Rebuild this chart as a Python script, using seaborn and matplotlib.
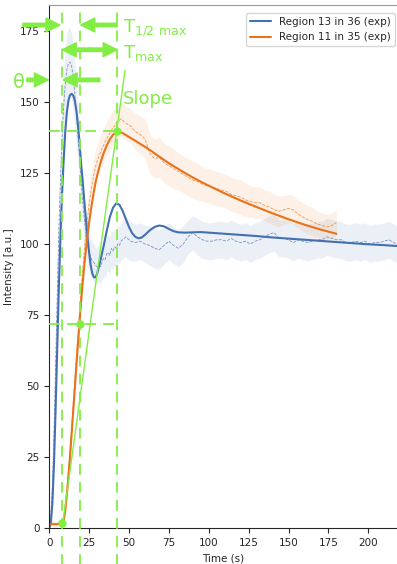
import numpy as np
import pandas as pd
import matplotlib
matplotlib.use("Agg")
import matplotlib.pyplot as plt
import seaborn as sns

# fitted curves
blue_fit_t = [0, 1, 2, 3, 4, 5, 6, 7, 8, 9, 10, 11, 12, 13, 14, 15, 16, 17, 18, 19, 20,
              21, 22, 23, 24, 25, 26, 27, 28, 29, 30, 32, 34, 36, 38, 40, 42, 44, 46, 48,
              50, 52, 54, 56, 58, 60, 63, 66, 69, 72, 75, 78, 81, 85, 90, 95, 100, 110,
              120, 130, 140, 150, 160, 170, 180, 190, 200, 210, 218]
blue_fit_v = [0, 2, 9, 23, 42, 63, 84, 102, 117, 129, 139, 146, 150.3, 152.3, 152.8, 152.3,
              150.5, 147, 142, 135.5, 128, 122, 115, 108.5, 102.5, 97, 92.5, 89.7, 88.3,
              88.3, 89.5, 94, 99, 104.5, 109.5, 112.8, 114.3, 113.8, 111.7, 108.8, 106,
              103.8, 102.5, 102, 102.3, 103.2, 104.8, 106, 106.5, 106.2, 105.3, 104.5,
              104.1, 104, 104.1, 104.2, 104, 103.6, 103.2, 102.8, 102.3, 101.9, 101.5,
              101.1, 100.7, 100.3, 99.9, 99.6, 99.3]

orange_fit_t = [0, 4, 8, 9, 10, 11, 12, 13, 14, 15, 16, 17, 18, 19, 20, 21, 22, 23, 24, 25,
                26, 27, 28, 29, 30, 32, 34, 36, 38, 40, 42, 44, 46, 48, 51, 54, 57, 60, 65,
                70, 75, 80, 85, 90, 95, 100, 110, 120, 130, 140, 150, 160, 170, 180]
orange_fit_v = [1.5, 1.5, 1.6, 2.5, 6, 11.5, 18, 25, 33, 41, 49, 57, 65, 72.5, 80, 86.5,
                92.5, 98, 103, 107.5, 111.5, 115, 118.5, 121.5, 124, 128.3, 131.8, 134.6,
                136.8, 138.4, 139.3, 139.4, 139, 138.3, 137.3, 136.3, 135.2, 134.2, 132.3,
                130.3, 128.4, 126.7, 125, 123.4, 121.9, 120.5, 117.8, 115.3, 113, 110.8,
                108.7, 106.8, 105.1, 103.6]

# measured (noisy) traces with spread
blue_t = [0, 1, 2, 3, 4, 5, 6, 7, 8, 9,
          10, 11, 12, 13, 14, 15, 16, 17, 18, 19,
          20, 21, 22, 23, 24, 25, 26, 27, 28, 29,
          30, 31, 32, 33, 34, 35, 36, 37, 38, 39,
          40, 41, 42, 43, 44,
          45, 48, 51, 54, 57, 60, 63, 66, 69, 72,
          75, 78, 81, 84, 87, 90, 93, 96, 99, 102,
          105, 108, 111, 114, 117, 120, 123, 126, 129, 132,
          135, 138, 141, 144, 147, 150, 153, 156, 159, 162,
          165, 168, 171, 174, 177, 180, 183, 186, 189, 192,
          195, 198, 201, 204, 207, 210, 213, 216, 218]
blue_v = [1, 4, 15, 34, 58, 82, 104, 122, 137, 148,
          156, 161, 163.5, 164, 162.5, 159, 153, 146, 138, 130,
          122, 115, 109, 104, 100, 97, 95.5, 94, 93.5, 92.5,
          92, 93.5, 92, 93.5, 95, 94.5, 96.5, 97, 96, 98.5,
          97.5, 99, 98.5, 100, 99.5,
          101, 102.5, 101, 100.5, 101, 100, 99.5, 98.5, 98, 99.5,
          101, 99.5, 98.5, 100, 102.5, 104, 102.5, 101.5, 101, 101,
          101.5, 101.5, 101, 102, 101, 100.5, 101, 100, 101, 101.5,
          102.5, 103.5, 104, 102, 102, 101.5, 100.5, 101.5, 101, 100.5,
          101, 101.5, 101.5, 102.5, 102, 101.5, 101.5, 100.5, 100.5, 101,
          100.5, 101, 100, 100.5, 100.5, 101, 101.5, 100.5, 100]
blue_sd = [1, 2, 4, 6, 8, 9, 10, 11, 12, 12,
           12.5, 13, 12.5, 12, 12, 12, 11, 11, 10, 10,
           9, 9, 8, 8, 7, 7, 7, 6.5, 6.5, 6.5,
           6.5, 6.5, 6.5, 6.5, 6.5, 6.5, 6.5, 6.5, 6.5, 6.5,
           6.5, 6.5, 6.5, 6.5, 6.5,
           6.5, 7, 7, 6.5, 6.5, 6.5, 7, 7, 7, 6.5,
           6.5, 6.5, 6.5, 6.5, 6, 6, 6.5, 6.5, 6.5, 6.5,
           6.5, 6.5, 6.5, 6.5, 6.5, 6.5, 6.5, 6.5, 6.5, 6.5,
           6.5, 6.5, 6.5, 6.5, 6.5, 6.5, 6.5, 6.5, 6.5, 6.5,
           6.5, 6.5, 6.5, 6.5, 6.5, 6.5, 6.5, 6.5, 6.5, 6.5,
           6.5, 6.5, 6.5, 6.5, 6.5, 6.5, 6.5, 6.5, 6.5]

orange_t = [0, 2, 4, 6, 8,
            9, 10, 11, 12, 13, 14, 15, 16, 17, 18,
            19, 20, 21, 22, 23, 24, 25, 26, 27, 28,
            29, 30, 31, 32, 33, 34, 35, 36, 37, 38,
            39, 40, 41, 42, 43, 44, 45,
            48, 51, 54, 57, 60, 63, 66, 69, 72, 75,
            78, 81, 84, 87, 90, 93, 96, 99, 102, 105,
            108, 111, 114, 117, 120, 123, 126, 129, 132, 135,
            138, 141, 144, 147, 150, 153, 156, 159, 162, 165,
            168, 171, 174, 177, 180]
orange_v = [1.5, 2, 1.5, 2, 2,
            3.5, 8, 13, 20, 27, 35, 43, 52, 60, 68,
            76, 84, 91, 98, 104, 109, 114, 118, 121.5, 124.5,
            127, 129, 130.5, 132, 133.5, 134.5, 136, 137, 138, 139,
            140, 141, 141.5, 142.5, 143, 143.5, 144,
            142.5, 141.5, 139.5, 138.5, 137, 132, 130, 130.5, 128.5, 127.5,
            126.5, 125.5, 124.5, 123.5, 122.5, 122, 121, 120.5, 120, 119.5,
            119, 118.5, 117.5, 117, 116.5, 115.5, 115, 114.5, 114.5, 113.5,
            113, 112, 111.5, 112, 112.5, 112, 110.5, 109.5, 108.5, 108,
            107, 106.5, 106, 106.5, 107.5]
orange_sd = [1, 1, 1, 1, 1.5,
             2, 2.5, 3, 3.5, 4, 4.5, 5, 5, 5, 5,
             5, 5, 5, 5, 5.5, 5.5, 5.5, 6, 6, 6,
             6, 6, 6, 6, 6, 6, 6, 6, 6, 6,
             6, 6, 6, 6, 6, 6, 6,
             6, 6, 6.5, 6.5, 7, 7, 7, 7, 7, 7,
             7, 6.5, 6.5, 6.5, 6.5, 6.5, 6, 6, 6, 6,
             6, 6, 6, 6, 6, 6, 5.5, 5.5, 5.5, 5.5,
             5.5, 5.5, 5.5, 5, 5, 5, 5, 5, 5, 5,
             4.5, 4.5, 4.5, 4.5, 4.5]

# annotation values
t_theta, t_half, t_max = 8, 19.2, 42.7
v_theta, v_half, v_max = 1.8, 72, 139.6
slope_t = [8.5, 47.5]
slope_v = [1.8, 161]

BLUE = "#4470b0"
ORANGE = "#e8731a"
GREEN = "#82ee44"

sns.set_style("ticks")
plt.rcParams["font.family"] = ["DejaVu Sans"]
plt.rcParams["mathtext.default"] = "regular"

fig = plt.figure(figsize=(3.97, 5.64), dpi=100)
ax = fig.add_axes([0.124, 0.063, 0.876, 0.928])

# bands + noisy traces
bt, bv, bs = np.array(blue_t), np.array(blue_v), np.array(blue_sd)
ot, ov, osd = np.array(orange_t), np.array(orange_v), np.array(orange_sd)
ax.fill_between(bt, bv - bs, bv + bs, color=BLUE, alpha=0.1, lw=0)
ax.fill_between(ot, ov - osd, ov + osd, color=ORANGE, alpha=0.1, lw=0)
sns.lineplot(x=bt, y=bv, ax=ax, color=BLUE, lw=0.6, alpha=0.7, ls="--", estimator=None)
sns.lineplot(x=ot, y=ov, ax=ax, color=ORANGE, lw=0.6, alpha=0.7, ls="--", estimator=None)

# fits
sns.lineplot(x=blue_fit_t, y=blue_fit_v, ax=ax, color=BLUE, lw=1.5, estimator=None,
             label="Region 13 in 36 (exp)")
sns.lineplot(x=orange_fit_t, y=orange_fit_v, ax=ax, color=ORANGE, lw=1.5, estimator=None,
             label="Region 11 in 35 (exp)")

# green markers
for t in (t_theta, t_half, t_max):
    ax.plot([t, t], [-0.07, 1.0], transform=ax.get_xaxis_transform(), color=GREEN,
            lw=1.3, ls=(0, (6, 4)), clip_on=False, zorder=4)
for v in (v_half, v_max):
    ax.plot([0, t_max + 1], [v, v], color=GREEN, lw=1.3, ls=(0, (6, 4)), zorder=4)
ax.plot(slope_t, slope_v, color=GREEN, lw=1.0, zorder=4)
ax.plot([t_theta, t_half, t_max], [v_theta, v_half, v_max], "o", color=GREEN, ms=5, zorder=5)

arrow = dict(color=GREEN, width=2.5, headwidth=10, headlength=10, shrink=0)
def arr(tip, tail):
    ax.annotate("", xy=tip, xytext=tail, arrowprops=arrow, annotation_clip=False)

arr((6.7, 177), (-16.5, 177))
arr((19.8, 177), (42.5, 177))
arr((8.2, 168.3), (25.5, 168.3))
arr((42.5, 168.3), (25.0, 168.3))
arr((-0.6, 157.7), (-14, 157.7))
arr((8.8, 157.7), (31.7, 157.7))

ax.text(46.2, 174.3, r"T$_{1/2\ max}$", color=GREEN, fontsize=13, clip_on=False)
ax.text(46.2, 165.5, r"T$_{max}$", color=GREEN, fontsize=13)
ax.text(46.2, 149.3, "Slope", color=GREEN, fontsize=13)
ax.text(-22.5, 155, "θ", color=GREEN, fontsize=14, clip_on=False)

ax.set_xlim(0, 218)
ax.set_ylim(0, 184)
ax.set_xticks([0, 25, 50, 75, 100, 125, 150, 175, 200])
ax.set_yticks([0, 25, 50, 75, 100, 125, 150, 175])
ax.tick_params(labelsize=7.5, length=3.5, width=0.8)
ax.set_xlabel("Time (s)", fontsize=7.5)
ax.set_ylabel("Intensity [a.u.]", fontsize=7.5)
ax.spines["right"].set_visible(False)
ax.spines["top"].set_color("#999999")
ax.spines["top"].set_linewidth(0.8)
ax.spines["left"].set_linewidth(0.8)
ax.spines["bottom"].set_linewidth(0.8)

ax.legend(loc="upper right", fontsize=7.5, frameon=True, bbox_to_anchor=(1.01, 0.995),
          handlelength=2.0)

fig.savefig("out.png", dpi=100)
